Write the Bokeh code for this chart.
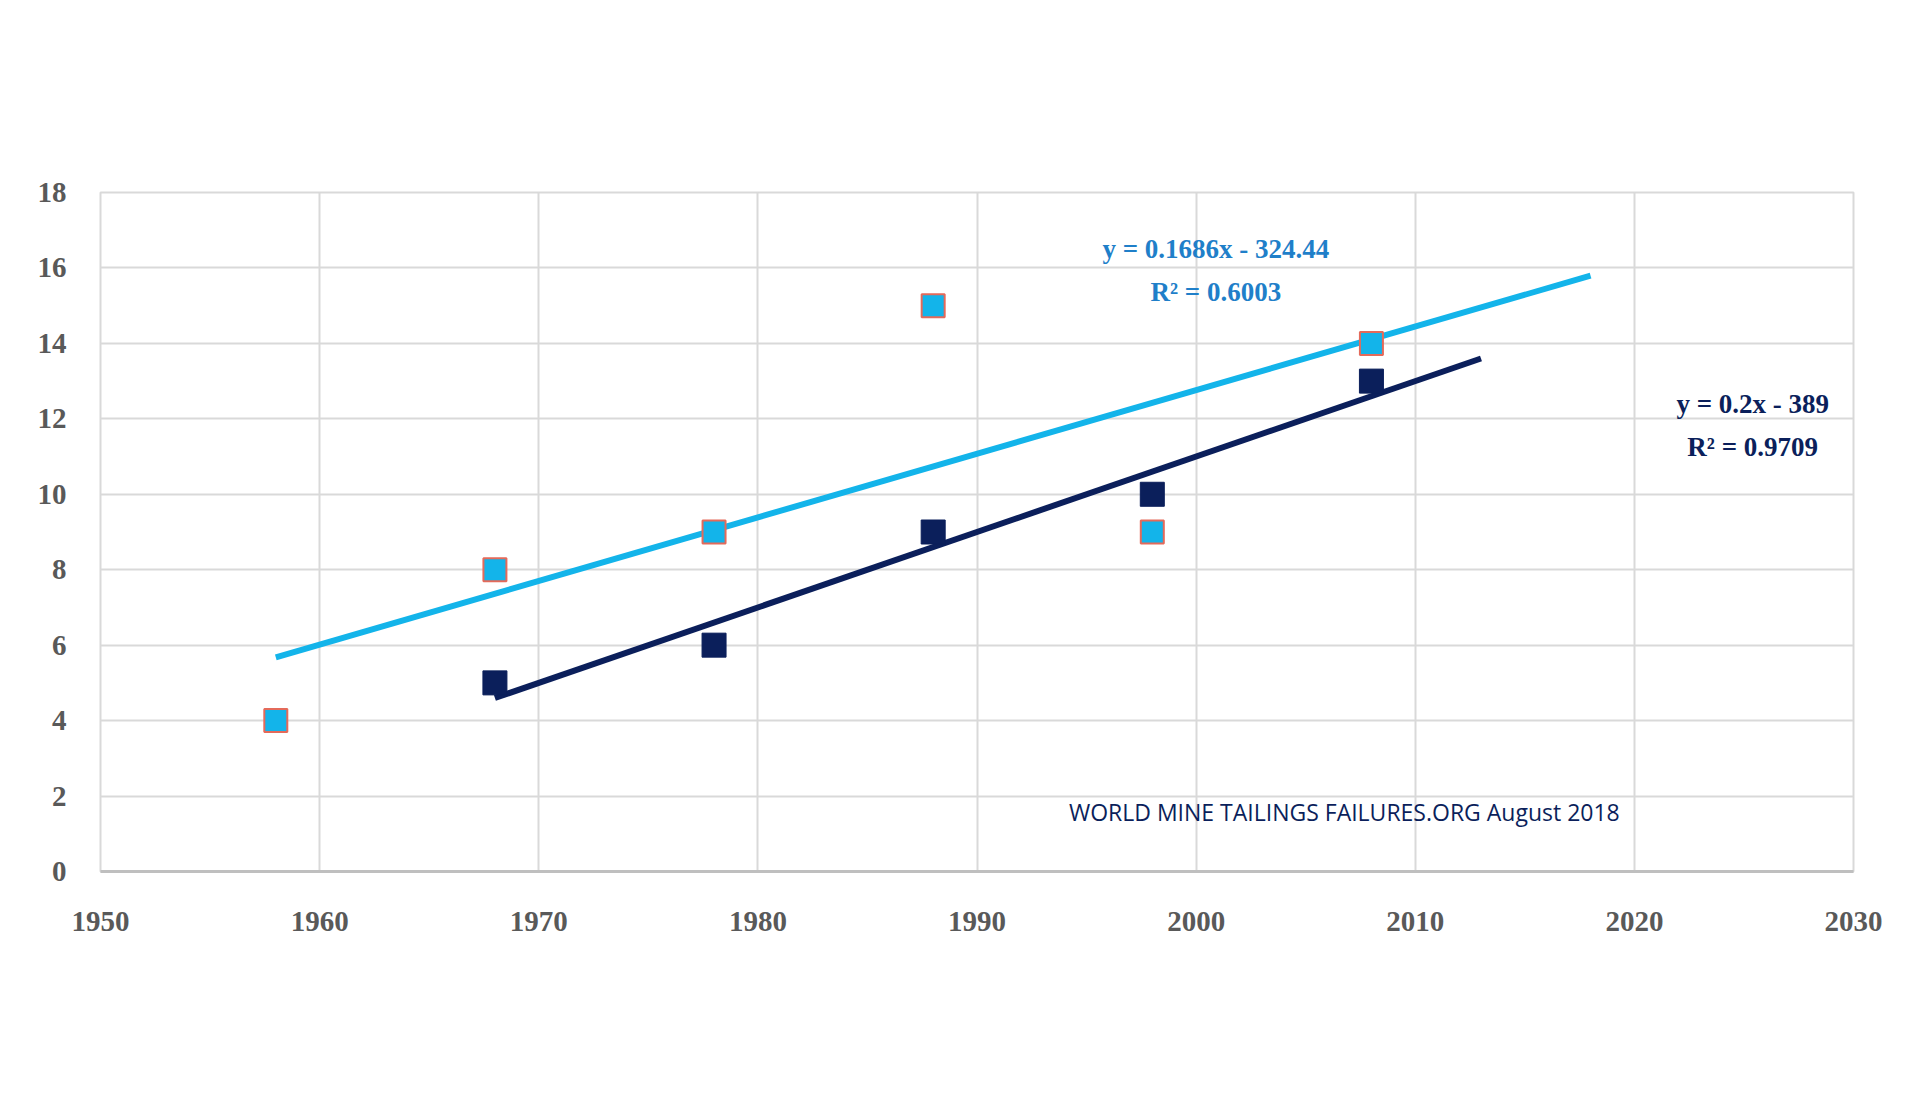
from bokeh.plotting import figure
from bokeh.models import Label, Legend, LegendItem, Range1d, FixedTicker
from bokeh.embed import file_html
from bokeh.resources import INLINE

heavy_years = [1968, 1978, 1988, 1998, 2008]
heavy_vals = [5, 6, 9, 10, 13]
major_years = [1958, 1968, 1978, 1988, 1998, 2008]
major_vals = [4, 8, 9, 15, 9, 14]
heavy_fit = (0.2, -389.0, 1968, 2013)
major_fit = (0.1686, -324.44, 1958, 2018)
x_ticks = list(range(1950, 2031, 10))
y_ticks = list(range(0, 19, 2))

DARK = "#0b1f5b"
LIGHT = "#13b4ea"
JP = "Noto Sans CJK JP"
SERIF = "Liberation Serif"

p = figure(width=1904, height=1084, output_backend="svg", toolbar_location=None,
           x_range=Range1d(1950, 2030), y_range=Range1d(0, 18),
           min_border_left=100, min_border_right=51, min_border_top=192, min_border_bottom=213)
p.outline_line_color = "#d9d9d9"
p.outline_line_width = 2
for ax in (p.xaxis[0], p.yaxis[0]):
    ax.major_tick_line_color = None
    ax.minor_tick_line_color = None
    ax.major_label_text_font = SERIF
    ax.major_label_text_font_style = "bold"
    ax.major_label_text_font_size = "29px"
    ax.major_label_text_color = "#595959"
p.xaxis.ticker = FixedTicker(ticks=x_ticks)
p.yaxis.ticker = FixedTicker(ticks=y_ticks)
p.xaxis.axis_line_color = "#bfbfbf"
p.xaxis.axis_line_width = 3
p.yaxis.axis_line_color = None
p.xaxis.major_label_standoff = 34
p.yaxis.major_label_standoff = 28
p.xgrid.ticker = FixedTicker(ticks=x_ticks)
p.ygrid.ticker = FixedTicker(ticks=y_ticks)
p.grid.grid_line_color = "#d9d9d9"
p.grid.grid_line_width = 2

def fitline(f):
    a, b, x0, x1 = f
    return [x0, x1], [a * x0 + b, a * x1 + b]

hx, hy = fitline(heavy_fit)
mx, my = fitline(major_fit)
l_major = p.line(mx, my, color=LIGHT, line_width=6)
l_heavy = p.line(hx, hy, color=DARK, line_width=6)
s_major = p.scatter(major_years, major_vals, marker="square", size=23, fill_color=LIGHT,
                    line_color="#e46a5a", line_width=2)
s_heavy = p.scatter(heavy_years, heavy_vals, marker="square", size=24, fill_color=DARK, line_color=DARK)

p.add_layout(Label(x=1990.6, y=21.75, text="尾鉱貯蔵施設の最重大および重大事故", text_align="center",
                   text_baseline="middle", text_font=JP, text_font_size="37px", text_color="#404040"))
p.add_layout(Label(x=1990.6, y=20.03, text="1958-2017", text_align="center", text_baseline="middle",
                   text_font=SERIF, text_font_style="bold", text_font_size="40px", text_color="black"))
for (x, y, t, c) in [(2000.9, 16.5, "y = 0.1686x - 324.44", "#1f7fc9"), (2000.9, 15.35, "R² = 0.6003", "#1f7fc9"),
                     (2025.4, 12.4, "y = 0.2x - 389", DARK), (2025.4, 11.26, "R² = 0.9709", DARK)]:
    p.add_layout(Label(x=x, y=y, text=t, text_align="center", text_baseline="middle", text_font=SERIF,
                       text_font_style="bold", text_font_size="27px", text_color=c))
p.add_layout(Label(x=2006.9, y=1.57, text="WORLD MINE TAILINGS FAILURES.ORG August  2018", text_align="center",
                   text_baseline="middle", text_font="Open Sans", text_font_size="23px", text_color="#0b1f5b"))

legend = Legend(items=[LegendItem(label="最重大事故", renderers=[s_heavy]),
                       LegendItem(label="重大事故", renderers=[s_major]),
                       LegendItem(label="線状グラフ（最重大事故）", renderers=[l_heavy]),
                       LegendItem(label="線状グラフ（重大事故）", renderers=[l_major])],
                orientation="horizontal", location=(60, -165), spacing=150, label_text_font=JP,
                label_text_font_size="29px", label_text_color="#595959", border_line_color=None,
                background_fill_alpha=0, glyph_width=70, glyph_height=30, label_standoff=28, padding=0, margin=0)
p.add_layout(legend)

open("out.html", "w").write(file_html(p, INLINE))
